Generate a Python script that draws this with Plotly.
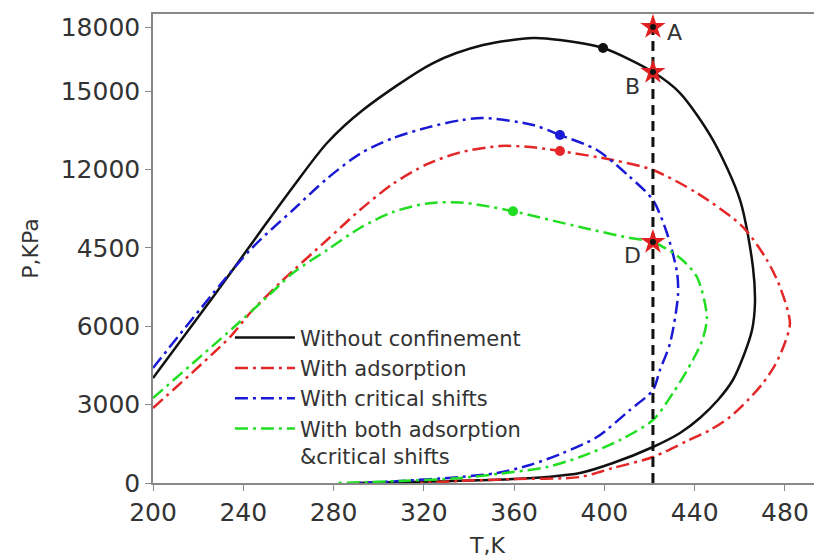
import plotly.graph_objects as go

# ---- data (T in K, P in kPa on the linear axis) ----
black_T = [200, 226.6, 247.4, 262.0, 277.1, 293.0, 324.1, 346.2, 368.4, 380.3, 399.4, 421.5, 433.5, 448.1, 460.1, 465.8,
           466.7, 465.4, 461.8, 456.9, 450.3, 442.3, 433.5, 421.5, 403.8, 389.2, 374.6, 359.5, 324.1, 300.6, 290]
black_P = [4018, 7118, 9606, 11328, 13012, 14275, 16073, 16762, 17030, 16954, 16647, 15729, 14925, 13127, 10830, 8266,
           6889, 5855, 4899, 3942, 3176, 2488, 1914, 1378, 765, 383, 230, 150, 60, 20, 0]

red_T = [200, 234.1, 243.0, 257.6, 277.1, 291.7, 306.3, 321.4, 336.0, 353.7, 367.0, 380.3, 403.8, 421.5, 441.0, 461.4,
         472.0, 477.8, 482.2, 479.6, 475.6, 470.3, 463.6, 455.6, 446.8, 436.6, 421.5, 403.8, 389.2, 359.5, 336.0, 318.3]
red_P = [2870, 5587, 6506, 7769, 9300, 10448, 11450, 12200, 12650, 12897, 12859, 12706, 12361, 11978, 11098, 9797,
         8534, 7501, 6123, 5281, 4516, 3827, 3176, 2526, 2028, 1607, 995, 574, 230, 150, 80, 0]

blue_T = [200, 243.0, 262.0, 277.1, 291.7, 306.3, 321.4, 336.0, 346.2, 368.4, 380.3, 396.7, 411.3, 421.5, 427.7, 432.2,
          432.6, 429.1, 424.6, 421.5, 411.3, 396.7, 381.6, 367.0, 352.4, 336.0, 309.4, 291.7]
blue_P = [4401, 8917, 10450, 11650, 12600, 13200, 13600, 13880, 13969, 13701, 13318, 12744, 11711, 10830, 9568, 8037,
          7195, 5358, 4324, 3559, 2794, 1760, 1148, 689, 383, 230, 77, 0]

green_T = [200, 235.4, 250.5, 262.0, 277.1, 291.7, 306.3, 321.4, 336.0, 346.2, 359.5, 389.2, 411.3, 421.5, 433.5, 441.0,
           445.4, 443.5, 439.2, 430.4, 421.5, 406.9, 389.2, 374.6, 359.5, 336.0, 309.4, 280.2]
green_P = [3253, 5932, 7118, 8037, 8917, 9759, 10371, 10700, 10740, 10620, 10400, 9797, 9376, 9223, 8611, 7884,
           6353, 5500, 4707, 3444, 2411, 1646, 995, 612, 421, 191, 77, 0]

series_names = ["Without confinement", "With adsorption", "With critical shifts",
                "With both adsorption<br>&critical shifts"]

# critical points (dots)
crit_T = [399.4, 380.3, 380.3, 359.5]
crit_P = [16647, 12706, 13318, 10400]

# isothermal line and marked points
iso_T = [421.5, 421.5]
iso_P = [0, 17450]
pt_T = [421.5, 421.5, 421.5]
pt_P = [17450, 15729, 9223]
pt_labels = ["A", "B", "D"]

x_ticks = [200, 240, 280, 320, 360, 400, 440, 480]
y_tickvals = [0, 3000, 6000, 9000, 12000, 15000, 17450]
y_ticktext = ["0", "3000", "6000", "4500", "12000", "15000", "18000"]

FONT = "DejaVu Sans"
TXT = "#333333"
colors = ["#111111", "#e32626", "#1a1ad6", "#22dd22"]
dashes = ["solid", "13px,5px,3px,5px", "13px,5px,3px,5px", "13px,5px,3px,5px"]

fig = go.Figure()
for T, P, name, c, d in zip([black_T, red_T, blue_T, green_T], [black_P, red_P, blue_P, green_P],
                            series_names, colors, dashes):
    fig.add_trace(go.Scatter(x=T, y=P, mode="lines", name=name,
                             line=dict(color=c, width=2.5, dash=d, shape="spline", smoothing=0.8)))

fig.add_trace(go.Scatter(x=crit_T, y=crit_P, mode="markers", showlegend=False,
                         marker=dict(color=colors, size=10)))

fig.add_trace(go.Scatter(x=iso_T, y=iso_P, mode="lines", showlegend=False,
                         line=dict(color="#111111", width=3, dash="10px,6px")))

fig.add_trace(go.Scatter(x=pt_T, y=pt_P, mode="markers", showlegend=False,
                         marker=dict(color="#e02020", size=19, symbol="star", line=dict(width=0))))
fig.add_trace(go.Scatter(x=pt_T, y=pt_P, mode="markers", showlegend=False,
                         marker=dict(color="#111111", size=6)))

label_shift = [(12, -5, "left"), (-20, -14, "center"), (-20, -13, "center")]
for t, p, lab, (dx, dy, xa) in zip(pt_T, pt_P, pt_labels, label_shift):
    fig.add_annotation(x=t, y=p, text=lab, showarrow=False, xanchor=xa, yanchor="middle",
                       xshift=dx, yshift=dy, font=dict(family=FONT, size=22, color=TXT))

fig.update_layout(
    width=814, height=552,
    margin=dict(l=145, r=0, t=6, b=77),
    paper_bgcolor="white", plot_bgcolor="white",
    font=dict(family=FONT, color=TXT),
    showlegend=True,
    legend=dict(x=0.115, y=0.353, xanchor="left", yanchor="top",
                bgcolor="rgba(0,0,0,0)", font=dict(family=FONT, size=21, color=TXT),
                itemwidth=60, valign="top", tracegroupgap=0),
    xaxis=dict(range=[200, 496.4], tickvals=x_ticks, ticks="outside", ticklen=6, tickcolor="#888888",
               showline=True, linecolor="#888888", linewidth=1.5, mirror=True, showgrid=False,
               zeroline=False, automargin=False, tickfont=dict(family=FONT, size=25, color=TXT),
               title=dict(text="T,K", font=dict(family=FONT, size=22, color=TXT), standoff=12)),
    yaxis=dict(range=[0, 17950], tickvals=y_tickvals, ticktext=y_ticktext, ticks="outside", ticklen=6,
               tickcolor="#888888", showline=True, linecolor="#888888", linewidth=1.5, mirror=False,
               showgrid=False, zeroline=False, automargin=False, tickfont=dict(family=FONT, size=25, color=TXT),
               title=dict(text="P,KPa", font=dict(family=FONT, size=22, color=TXT), standoff=16)),
)

fig.write_html("out.html")
